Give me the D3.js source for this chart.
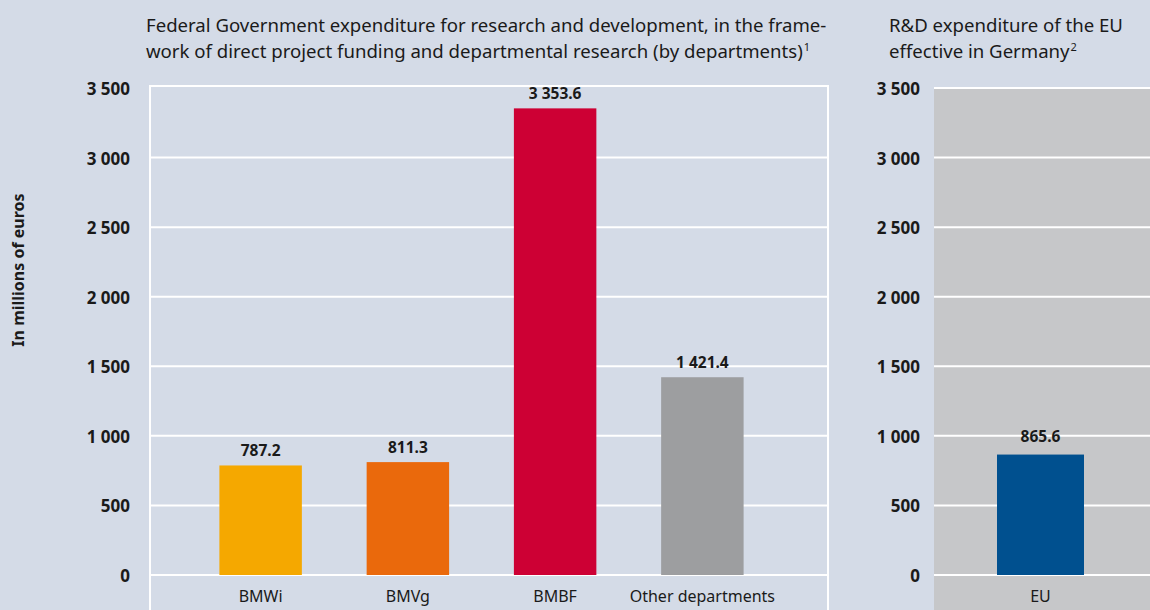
<!DOCTYPE html>
<html lang="en">
<head>
<meta charset="utf-8">
<title>R&amp;D expenditure</title>
<script src="https://cdn.jsdelivr.net/npm/d3@7"></script>
<style>
  body { margin: 0; background: #d4dbe7; }
  svg { display: block; font-family: "Noto Sans", sans-serif; }
  .tick-label { font-weight: bold; font-size: 17px; fill: #1a1a1a; }
  .value-label { font-weight: bold; font-size: 15.5px; fill: #1a1a1a; }
  .cat-label { font-size: 16px; fill: #1a1a1a; }
  .title { font-size: 18.6px; fill: #1a1a1a; }
</style>
</head>
<body>
<script>
// data
var departments = ["BMWi", "BMVg", "BMBF", "Other departments"];
var deptValues = [787.2, 811.3, 3353.6, 1421.4];
var deptColors = ["#f5a800", "#ea690c", "#cd0034", "#9d9ea0"];
var euCategories = ["EU"];
var euValues = [865.6];
var euColors = ["#00508f"];
var yTicks = [0, 500, 1000, 1500, 2000, 2500, 3000, 3500];

var w = 1150, h = 610;
var fmtNum = function(v) {
  // thousands separated by a space, one decimal where needed
  var s = (v % 1 === 0) ? String(v) : v.toFixed(1);
  var parts = s.split(".");
  parts[0] = parts[0].replace(/\B(?=(\d{3})+(?!\d))/g, " ");
  return parts.join(".");
};

var svg = d3.select("body").append("svg")
  .attr("width", w).attr("height", h);

svg.append("rect").attr("width", w).attr("height", h).attr("fill", "#d4dbe7");

var yScale = d3.scaleLinear().domain([0, 3500]).range([575, 88]);

// ---- left panel ----
var left = { x0: 150, x1: 828 };

// frame
svg.append("path")
  .attr("d", `M${left.x0},${h} V86 H${left.x1} V${h}`)
  .attr("fill", "none").attr("stroke", "#fff").attr("stroke-width", 2);

svg.append("g").selectAll("line")
  .data(yTicks.slice(0, -1))
  .enter().append("line")
  .attr("x1", left.x0).attr("x2", left.x1)
  .attr("y1", d => yScale(d)).attr("y2", d => yScale(d))
  .attr("stroke", "#fff").attr("stroke-width", 2);

svg.append("g").selectAll("text")
  .data(yTicks)
  .enter().append("text")
  .attr("class", "tick-label")
  .attr("x", 130).attr("y", d => yScale(d) + 1)
  .attr("dy", "0.35em")
  .attr("text-anchor", "end")
  .text(d => fmtNum(d));

var xScale = d3.scaleBand()
  .domain(departments)
  .range([187, 776])
  .paddingInner(0.44)
  .paddingOuter(0.22);

svg.append("g").selectAll("rect")
  .data(departments)
  .enter().append("rect")
  .attr("x", d => xScale(d))
  .attr("width", xScale.bandwidth())
  .attr("y", (d, i) => yScale(deptValues[i]))
  .attr("height", (d, i) => yScale(0) - yScale(deptValues[i]))
  .attr("fill", (d, i) => deptColors[i]);

svg.append("g").selectAll("text")
  .data(departments)
  .enter().append("text")
  .attr("class", "value-label")
  .attr("x", d => xScale(d) + xScale.bandwidth() / 2)
  .attr("y", (d, i) => yScale(deptValues[i]) - 9)
  .attr("text-anchor", "middle")
  .text((d, i) => fmtNum(deptValues[i]));

svg.append("g").selectAll("text")
  .data(departments)
  .enter().append("text")
  .attr("class", "cat-label")
  .attr("x", d => xScale(d) + xScale.bandwidth() / 2)
  .attr("y", 602)
  .attr("text-anchor", "middle")
  .text(d => d);

// ---- right panel ----
var right = { x0: 934, x1: w };

svg.append("rect")
  .attr("x", right.x0).attr("y", yScale(3500))
  .attr("width", right.x1 - right.x0).attr("height", h - yScale(3500))
  .attr("fill", "#c6c7c9");

svg.append("g").selectAll("line")
  .data(yTicks)
  .enter().append("line")
  .attr("x1", right.x0).attr("x2", right.x1)
  .attr("y1", d => yScale(d)).attr("y2", d => yScale(d))
  .attr("stroke", "#fff").attr("stroke-width", 2);

svg.append("g").selectAll("text")
  .data(yTicks)
  .enter().append("text")
  .attr("class", "tick-label")
  .attr("x", 920).attr("y", d => yScale(d) + 1)
  .attr("dy", "0.35em")
  .attr("text-anchor", "end")
  .text(d => fmtNum(d));

var xEu = d3.scaleBand()
  .domain(euCategories)
  .range([997, 1084]);

svg.append("g").selectAll("rect")
  .data(euCategories)
  .enter().append("rect")
  .attr("x", d => xEu(d))
  .attr("width", xEu.bandwidth())
  .attr("y", (d, i) => yScale(euValues[i]))
  .attr("height", (d, i) => yScale(0) - yScale(euValues[i]))
  .attr("fill", (d, i) => euColors[i]);

svg.append("g").selectAll("text")
  .data(euCategories)
  .enter().append("text")
  .attr("class", "value-label")
  .attr("x", d => xEu(d) + xEu.bandwidth() / 2)
  .attr("y", (d, i) => yScale(euValues[i]) - 13)
  .attr("text-anchor", "middle")
  .text((d, i) => fmtNum(euValues[i]));

svg.append("g").selectAll("text")
  .data(euCategories)
  .enter().append("text")
  .attr("class", "cat-label")
  .attr("x", d => xEu(d) + xEu.bandwidth() / 2)
  .attr("y", 602)
  .attr("text-anchor", "middle")
  .text(d => d);

// ---- titles ----
function titleBlock(x, lines, sup, size) {
  var t = svg.append("text").attr("class", "title").attr("x", x).attr("y", 32)
    .attr("font-size", size + "px");
  lines.forEach(function(line, i) {
    t.append("tspan").attr("x", x).attr("y", 32 + i * 26).text(line);
  });
  t.append("tspan").attr("dx", 1).attr("dy", -7).attr("font-size", "11px").text(sup);
}
titleBlock(146, [
  "Federal Government expenditure for research and development, in the frame-",
  "work of direct project funding and departmental research (by departments)"
], "1", 18.6);
titleBlock(889, ["R&D expenditure of the EU", "effective in Germany"], "2", 19.5);

svg.append("text")
  .attr("transform", "translate(24,270) rotate(-90)")
  .attr("text-anchor", "middle")
  .attr("font-weight", "bold")
  .attr("font-size", "16px")
  .attr("fill", "#1a1a1a")
  .text("In millions of euros");
</script>
</body>
</html>
